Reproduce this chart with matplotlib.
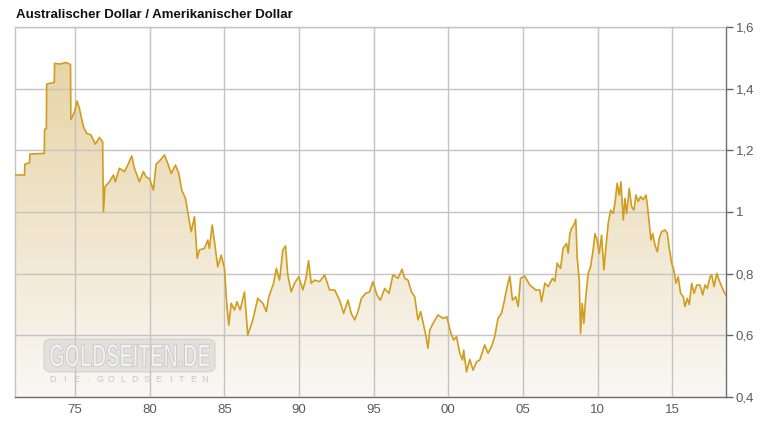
import matplotlib
matplotlib.use('Agg')
import matplotlib.pyplot as plt
import numpy as np
from matplotlib.path import Path
from matplotlib.patches import PathPatch, FancyBboxPatch
from matplotlib.textpath import TextPath
from matplotlib.font_manager import FontProperties
from matplotlib.transforms import Affine2D, IdentityTransform

# ---------------- data ----------------
years = [
    1971.00, 1971.62, 1971.64, 1971.95, 1971.98, 1972.94, 1972.96, 1973.08, 1973.10, 1973.61,
    1973.63, 1974.00, 1974.40, 1974.70, 1974.72, 1974.84, 1975.00, 1975.13, 1975.29, 1975.56,
    1975.78, 1976.07, 1976.36, 1976.63, 1976.85, 1976.90, 1977.01, 1977.30, 1977.57, 1977.70,
    1977.97, 1978.31, 1978.53, 1978.80, 1978.98, 1979.31, 1979.58, 1979.76, 1979.98, 1980.25,
    1980.43, 1980.65, 1980.99, 1981.21, 1981.44, 1981.73, 1981.95, 1982.15, 1982.40, 1982.55,
    1982.78, 1983.00, 1983.18, 1983.33, 1983.67, 1983.89, 1984.00, 1984.19, 1984.34, 1984.56,
    1984.79, 1985.01, 1985.16, 1985.30, 1985.46, 1985.68, 1985.84, 1986.06, 1986.35, 1986.57,
    1986.91, 1987.24, 1987.58, 1987.81, 1987.98, 1988.30, 1988.48, 1988.70, 1988.92, 1989.10,
    1989.25, 1989.48, 1989.70, 1989.99, 1990.26, 1990.49, 1990.64, 1990.82, 1991.04, 1991.38,
    1991.72, 1992.05, 1992.39, 1992.72, 1992.99, 1993.28, 1993.50, 1993.73, 1993.95, 1994.18,
    1994.46, 1994.73, 1994.95, 1995.22, 1995.45, 1995.74, 1996.03, 1996.29, 1996.63, 1996.90,
    1997.08, 1997.30, 1997.53, 1997.75, 1997.97, 1998.15, 1998.42, 1998.53, 1998.64, 1998.76,
    1998.98, 1999.31, 1999.65, 1999.91, 2000.14, 2000.36, 2000.55, 2000.77, 2000.95, 2001.03,
    2001.22, 2001.44, 2001.66, 2001.89, 2002.11, 2002.44, 2002.66, 2002.89, 2003.11, 2003.33,
    2003.56, 2003.72, 2003.94, 2004.12, 2004.30, 2004.52, 2004.68, 2004.84, 2005.12, 2005.46,
    2005.86, 2006.13, 2006.24, 2006.47, 2006.69, 2006.98, 2007.14, 2007.29, 2007.52, 2007.69,
    2007.92, 2008.03, 2008.14, 2008.26, 2008.41, 2008.54, 2008.63, 2008.77, 2008.86, 2008.97,
    2009.08, 2009.21, 2009.37, 2009.53, 2009.70, 2009.82, 2009.97, 2010.11, 2010.27, 2010.42,
    2010.56, 2010.71, 2010.87, 2011.04, 2011.16, 2011.31, 2011.45, 2011.56, 2011.72, 2011.83,
    2011.94, 2012.12, 2012.28, 2012.43, 2012.57, 2012.72, 2012.88, 2013.06, 2013.24, 2013.32,
    2013.44, 2013.57, 2013.69, 2013.84, 2014.00, 2014.13, 2014.29, 2014.51, 2014.67, 2014.80,
    2014.96, 2015.11, 2015.25, 2015.40, 2015.56, 2015.74, 2015.85, 2016.01, 2016.14, 2016.30,
    2016.46, 2016.64, 2016.86, 2017.04, 2017.19, 2017.35, 2017.53, 2017.64, 2017.80, 2017.98,
    2018.13, 2018.31, 2018.47, 2018.58,
]
values = [
    1.120, 1.120, 1.155, 1.160, 1.188, 1.190, 1.268, 1.270, 1.415, 1.420,
    1.482, 1.480, 1.485, 1.478, 1.300, 1.311, 1.330, 1.360, 1.337, 1.277,
    1.255, 1.250, 1.220, 1.242, 1.228, 1.000, 1.082, 1.098, 1.120, 1.098,
    1.142, 1.131, 1.152, 1.182, 1.142, 1.098, 1.131, 1.114, 1.109, 1.071,
    1.155, 1.165, 1.185, 1.158, 1.125, 1.152, 1.125, 1.071, 1.044, 1.000,
    0.936, 0.985, 0.850, 0.877, 0.882, 0.909, 0.882, 0.958, 0.904, 0.822,
    0.860, 0.817, 0.704, 0.633, 0.704, 0.682, 0.709, 0.682, 0.741, 0.601,
    0.650, 0.720, 0.704, 0.677, 0.725, 0.769, 0.817, 0.779, 0.877, 0.890,
    0.796, 0.741, 0.769, 0.790, 0.747, 0.790, 0.842, 0.769, 0.779, 0.774,
    0.796, 0.747, 0.747, 0.714, 0.671, 0.714, 0.671, 0.650, 0.677, 0.720,
    0.736, 0.741, 0.774, 0.731, 0.714, 0.752, 0.736, 0.796, 0.785, 0.814,
    0.785, 0.779, 0.741, 0.725, 0.650, 0.677, 0.617, 0.590, 0.558, 0.617,
    0.639, 0.666, 0.655, 0.660, 0.612, 0.585, 0.596, 0.542, 0.520, 0.552,
    0.482, 0.522, 0.487, 0.514, 0.520, 0.569, 0.542, 0.563, 0.596, 0.655,
    0.671, 0.704, 0.758, 0.792, 0.714, 0.725, 0.693, 0.785, 0.792, 0.763,
    0.747, 0.747, 0.709, 0.769, 0.758, 0.785, 0.775, 0.834, 0.817, 0.882,
    0.898, 0.866, 0.930, 0.947, 0.958, 0.976, 0.855, 0.779, 0.606, 0.704,
    0.639, 0.725, 0.801, 0.822, 0.877, 0.930, 0.909, 0.866, 0.925, 0.812,
    0.887, 0.963, 1.006, 0.995, 1.028, 1.093, 1.055, 1.098, 0.974, 1.044,
    0.995, 1.077, 1.017, 1.006, 1.055, 1.034, 1.050, 1.040, 1.055, 1.028,
    0.974, 0.909, 0.930, 0.893, 0.871, 0.915, 0.936, 0.942, 0.931, 0.882,
    0.834, 0.812, 0.769, 0.790, 0.736, 0.725, 0.693, 0.720, 0.700, 0.769,
    0.736, 0.763, 0.763, 0.731, 0.763, 0.752, 0.790, 0.796, 0.758, 0.801,
    0.780, 0.758, 0.741, 0.731,
]

title = "Australischer Dollar / Amerikanischer Dollar"
x_ticks = [1975, 1980, 1985, 1990, 1995, 2000, 2005, 2010, 2015]
x_tick_labels = ["75", "80", "85", "90", "95", "00", "05", "10", "15"]
y_ticks = [0.4, 0.6, 0.8, 1.0, 1.2, 1.4, 1.6]
y_tick_labels = ["0,4", "0,6", "0,8", "1", "1,2", "1,4", "1,6"]

# ---------------- figure ----------------
W, H = 767, 425
fig = plt.figure(figsize=(W / 100, H / 100), dpi=100)
fig.patch.set_facecolor('white')
ax = fig.add_axes([15 / W, 28 / H, 711 / W, 370 / H])
xmin, xmax = 1970.98, 2018.6
ymin, ymax = 0.4, 1.6
ax.set_xlim(xmin, xmax)
ax.set_ylim(ymin, ymax)
ax.set_facecolor('white')

x = np.array(years)
y = np.array(values)

# gradient fill under the curve
top_c = np.array([230, 208, 158]) / 255.0
bot_c = np.array([249, 248, 245]) / 255.0
n = 256
t = np.linspace(0, 1, n)[:, None]
grad = bot_c[None, :] * (1 - t) + top_c[None, :] * t
img = ax.imshow(grad[:, None, :].repeat(2, axis=1), extent=[xmin, xmax, ymin, ymax],
                origin='lower', aspect='auto', zorder=1, interpolation='bilinear')
verts = [(x[0], ymin)] + list(zip(x, y)) + [(x[-1], ymin), (x[0], ymin)]
codes = [Path.MOVETO] + [Path.LINETO] * (len(verts) - 2) + [Path.CLOSEPOLY]
clip = PathPatch(Path(verts, codes), transform=ax.transData, facecolor='none', edgecolor='none')
ax.add_patch(clip)
img.set_clip_path(clip)

ax.plot(x, y, color='#d19d1f', lw=1.2, zorder=4)

# grid
ax.set_axisbelow(False)
ax.grid(True, color='#c3c3c3', lw=1.0, zorder=2)

# ticks
ax.set_xticks(x_ticks)
ax.set_xticklabels(x_tick_labels)
ax.set_yticks(y_ticks)
ax.set_yticklabels(y_tick_labels)
ax.yaxis.tick_right()
lab_font = ['Liberation Sans', 'DejaVu Sans']
ax.tick_params(axis='x', length=0, pad=5, labelsize=9.5, labelcolor='#5a5a66')
ax.tick_params(axis='y', length=5, width=1, color='#666666', pad=2, labelsize=9.5,
               labelcolor='#5a5a66', direction='out')
for lab in ax.get_xticklabels() + ax.get_yticklabels():
    lab.set_family(lab_font)

for s in ['left', 'top']:
    ax.spines[s].set_color('#c3c3c3')
    ax.spines[s].set_linewidth(1.0)
for s in ['right', 'bottom']:
    ax.spines[s].set_color('#6e6e6e')
    ax.spines[s].set_linewidth(1.0)

# title
fig.text(16 / W, 1 - 15 / H, title, fontsize=9.5, fontweight='bold', color='#111111',
         family=['Liberation Sans', 'DejaVu Sans'], va='center', ha='left')

# watermark (pixel coordinates, origin bottom-left)
box = FancyBboxPatch((44 / W, 1 - 372 / H), 171 / W, 33 / H,
                     boxstyle='round,pad=0,rounding_size=0.012',
                     transform=fig.transFigure, facecolor='#d2d2d2', edgecolor='#c8c8c8',
                     alpha=0.55, zorder=3)
fig.add_artist(box)
tp = TextPath((0, 0), 'GOLDSEITEN.DE', size=20,
              prop=FontProperties(family='Liberation Sans', weight='bold'))
ext = tp.get_extents()
tw, th = 160.0, 23.0
tr = (Affine2D().translate(-ext.x0, -ext.y0)
      .scale(tw / ext.width, th / ext.height)
      .translate(50, H - 367))
wm = PathPatch(tr.transform_path(tp), transform=IdentityTransform(),
               facecolor='#f3f3f3', edgecolor='#c4c4c4', lw=0.6, alpha=0.9, zorder=4)
fig.add_artist(wm)
chars = ['D', 'I', 'E', '·', 'G', 'O', 'L', 'D', 'S', 'E', 'I', 'T', 'E', 'N']
cx = np.linspace(53, 205, len(chars))
for c, px in zip(chars, cx):
    fig.text(px / W, 1 - 380 / H, c, fontsize=6.5, family=lab_font, color='#c6c6c6',
             ha='center', va='center', zorder=4)

fig.savefig('out.png', dpi=100)
